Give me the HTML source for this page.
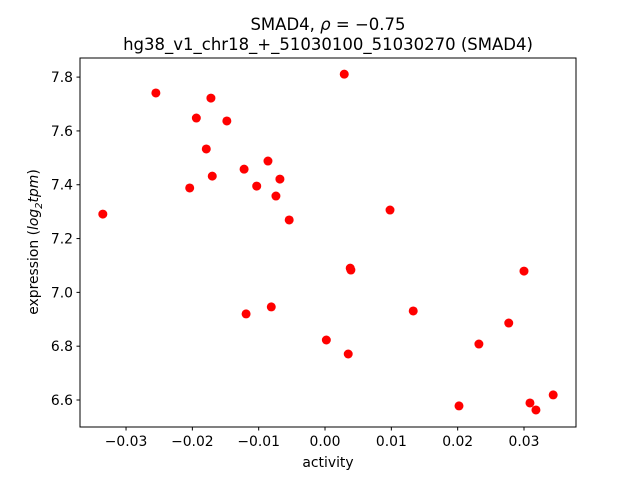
<!DOCTYPE html>
<html><head><meta charset="utf-8"><style>
body{margin:0;background:#fff;}
svg{display:block;font-family:"DejaVu Sans","Liberation Sans",sans-serif;}
</style></head><body>
<svg id="chart" width="640" height="480">
<text x="328" y="30" font-size="16.5" text-anchor="middle">SMAD4, <tspan font-style="italic">ρ</tspan> = −0.75</text>
<text x="328" y="50" font-size="16.5" text-anchor="middle">hg38_v1_chr18_+_51030100_51030270 (SMAD4)</text>
<g id="ticks"></g>
<g id="points"></g>
<rect x="80" y="58" width="496" height="369" fill="none" stroke="#000" stroke-width="1"/>
<text x="328" y="467" font-size="13.9" text-anchor="middle">activity</text>
<text transform="translate(38,242) rotate(-90)" font-size="13.9" text-anchor="middle">expression (<tspan font-style="italic">log</tspan><tspan font-style="italic" font-size="10" dy="4">2</tspan><tspan font-style="italic" dy="-4">tpm</tspan>)</text>
</svg>
<script>
const activity=[-0.0335,-0.0255,-0.0172,-0.0194,-0.0148,-0.0179,-0.0204,-0.0170,-0.0122,-0.0086,-0.0103,-0.0068,-0.0074,-0.0054,-0.0119,-0.0081,0.0029,0.0098,0.0038,0.0039,0.0002,0.0035,0.0133,0.0300,0.0277,0.0232,0.0202,0.0309,0.0318,0.0344];
const expression=[7.291,7.741,7.722,7.648,7.637,7.533,7.388,7.432,7.458,7.488,7.395,7.421,7.358,7.269,6.920,6.946,7.811,7.306,7.090,7.083,6.823,6.771,6.931,7.079,6.886,6.808,6.578,6.589,6.563,6.619];
const xTicks=[-0.03,-0.02,-0.01,0.00,0.01,0.02,0.03];
const xTickLabels=["−0.03","−0.02","−0.01","0.00","0.01","0.02","0.03"];
const yTicks=[6.6,6.8,7.0,7.2,7.4,7.6,7.8];
const yTickLabels=["6.6","6.8","7.0","7.2","7.4","7.6","7.8"];
const X0=80,X1=576,Y0=58,Y1=427,xmin=-0.03694,xmax=0.03784,ymin=6.4997,ymax=7.871;
const sx=v=>X0+(v-xmin)/(xmax-xmin)*(X1-X0);
const sy=v=>Y1-(v-ymin)/(ymax-ymin)*(Y1-Y0);
const NS="http://www.w3.org/2000/svg";
const tg=document.getElementById('ticks'),pg=document.getElementById('points');
xTicks.forEach((t,i)=>{const x=sx(t);
const l=document.createElementNS(NS,'line');l.setAttribute('x1',x);l.setAttribute('x2',x);l.setAttribute('y1',Y1);l.setAttribute('y2',Y1+3.5);l.setAttribute('stroke','#000');


tg.appendChild(l);
const tx=document.createElementNS(NS,'text');tx.setAttribute('x',x);tx.setAttribute('y',Y1+19);tx.setAttribute('font-size','13.9');tx.setAttribute('text-anchor','middle');tx.textContent=xTickLabels[i];


tg.appendChild(tx);});
yTicks.forEach((t,i)=>{const y=sy(t);
const l=document.createElementNS(NS,'line');l.setAttribute('x1',X0-3.5);l.setAttribute('x2',X0);l.setAttribute('y1',y);l.setAttribute('y2',y);l.setAttribute('stroke','#000');


tg.appendChild(l);
const tx=document.createElementNS(NS,'text');tx.setAttribute('x',X0-7);tx.setAttribute('y',y+5);tx.setAttribute('font-size','13.9');tx.setAttribute('text-anchor','end');tx.textContent=yTickLabels[i];


tg.appendChild(tx);});
activity.forEach((a,i)=>{const c=document.createElementNS(NS,'circle');c.setAttribute('cx',sx(a));c.setAttribute('cy',sy(expression[i]));c.setAttribute('r',4.5);c.setAttribute('fill','#ff0000');


pg.appendChild(c);});
</script>
</body></html>
